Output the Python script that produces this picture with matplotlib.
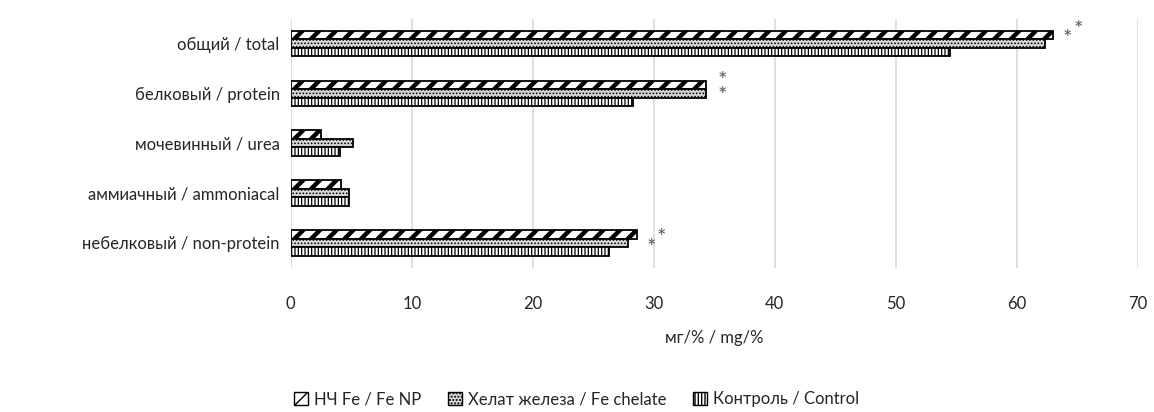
import matplotlib.pyplot as plt
import numpy as np
from matplotlib.patches import Patch

plt.rcParams['font.family'] = ['Lato', 'DejaVu Sans']

categories = ['общий / total', 'белковый / protein', 'мочевинный / urea',
              'аммиачный / ammoniacal', 'небелковый / non-protein']
series = ['НЧ Fe / Fe NP', 'Хелат железа / Fe chelate', 'Контроль / Control']
fe_np = [63.0, 34.3, 2.5, 4.15, 28.6]
fe_chelate = [62.3, 34.3, 5.1, 4.8, 27.9]
control = [54.5, 28.3, 4.1, 4.8, 26.3]
# asterisk marks: (category index, x position, y offset, text)
stars = [(0, 64.2, -0.08, '*'), (0, 65.1, -0.27, '*'), (1, 35.7, -0.1, '*\n*'),
         (4, 29.8, 0.1, '*'), (4, 30.6, -0.09, '*')]

fig, ax = plt.subplots(figsize=(11.54, 4.12), dpi=100)
fig.subplots_adjust(left=0.252, right=0.986, top=0.955, bottom=0.35)

y = np.arange(len(categories))
h = 0.17
styles = [('white', '//', 3.2), ('#d9d9d9', '.....', 0.8), ('white', '|||||', 0.9)]
for i, (vals, (fc, hatch, hlw)) in enumerate(zip([fe_np, fe_chelate, control], styles)):
    with plt.rc_context({'hatch.linewidth': hlw}):
        bars = ax.barh(y + (i - 1) * h, vals, height=h, color=fc, edgecolor='black',
                       hatch=hatch, linewidth=1.3, zorder=3)
        for b in bars:
            if hasattr(b, 'set_hatch_linewidth'):
                b.set_hatch_linewidth(hlw)

for ci, xs, dy, txt in stars:
    ax.text(xs, ci + dy, txt, fontsize=16, color='#595959', ha='center', va='center',
            linespacing=0.7)

ax.set_yticks(y)
ax.set_yticklabels(categories, fontsize=12, color='#262626')
ax.set_ylim(4.5, -0.5)
ax.set_xlim(0, 70)
ax.set_xticks(range(0, 71, 10))
ax.tick_params(axis='x', labelsize=12, colors='#262626', length=0, pad=20)
ax.tick_params(axis='y', length=0, pad=8)
ax.xaxis.grid(True, color='#d9d9d9', linewidth=1.2, zorder=0)
for s in ax.spines.values():
    s.set_visible(False)
ax.set_xlabel('мг/% / mg/%', fontsize=12, color='#262626', labelpad=13)

handles = [Patch(facecolor=fc, edgecolor='black', hatch=hatch) for fc, hatch, _ in styles]
fig.legend(handles, series, loc='lower center', ncol=3, frameon=False, fontsize=12,
           bbox_to_anchor=(0.5, -0.025), handlelength=0.8, handleheight=0.8,
           columnspacing=1.6, handletextpad=0.4, labelcolor='#262626')

fig.savefig('out.png', dpi=100)
